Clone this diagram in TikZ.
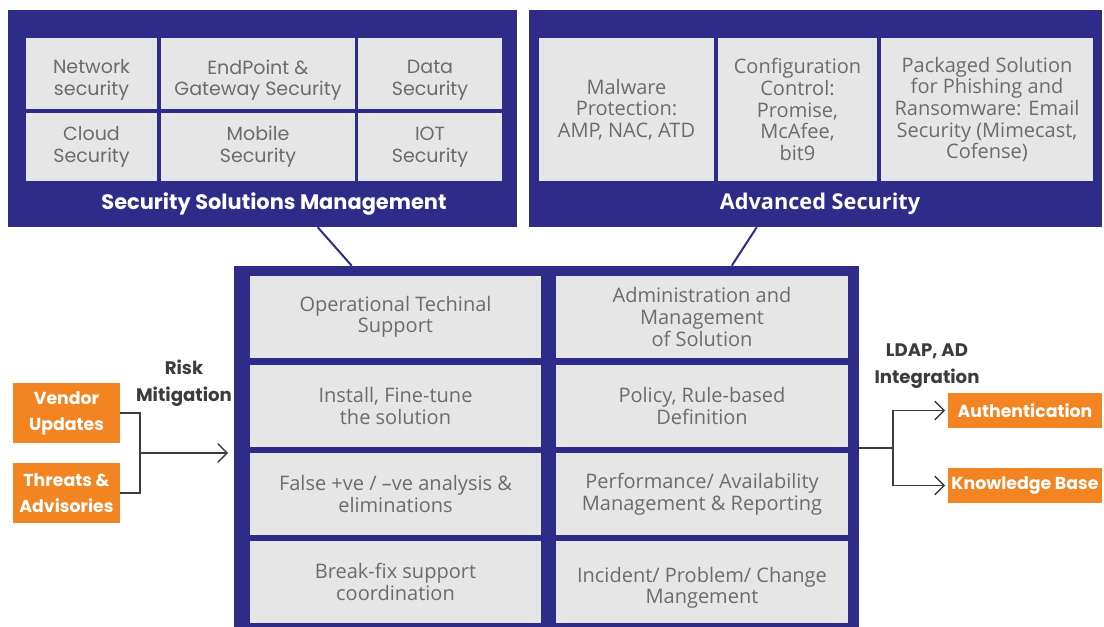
\documentclass[tikz,border=0pt]{standalone}
\usepackage{fontspec}
\setmainfont{Poppins}
\newfontfamily\osans{Open Sans}
\usetikzlibrary{arrows.meta,fit,calc}
\definecolor{navy}{HTML}{2E2C88}
\definecolor{cellgray}{HTML}{E6E6E6}
\definecolor{orng}{HTML}{F28421}
\definecolor{txtgray}{HTML}{6C6C6C}
\definecolor{lbl}{HTML}{3C3C3C}
\newcommand\mkcell[7][cellbox]{\node[cellbg, fit={(#3,#4)(#5,#6)}] (#2) {};
  \node[#1] (#2t) at (#2.center) {#7};}
\tikzset{
  cellbg/.style={fill=cellgray, inner sep=0pt},
  cellbox/.style={inner sep=0pt, align=center, text=txtgray, font=\fontsize{14.3}{16.2}\selectfont},
  mcell/.style={cellbox, font=\osans\fontsize{15}{16.2}\selectfont},
  panel/.style={fill=navy, inner sep=0pt},
  ptitle/.style={text=white, font=\bfseries\fontsize{15.7}{18}\selectfont},
  obox/.style={fill=orng, inner sep=0pt},
  otext/.style={align=center, text=white, inner sep=0pt, font=\bfseries\fontsize{13}{19.5}\selectfont},
  lab/.style={text=lbl, align=center, font=\bfseries\fontsize{13.6}{20}\selectfont},
  conn/.style={draw=lbl, line width=1pt},
  arr/.style={conn, -{Straight Barb[length=7pt,width=14pt]}},
  link/.style={draw=navy, line width=1.5pt}
}
\begin{document}
\begin{tikzpicture}[x=0.75pt,y=-0.75pt]
\useasboundingbox (0,0) rectangle (1104,627);
% panels
\node[panel, fit={(8,10)(517,227)}] (ssm) {};
\node[panel, fit={(529,10)(1102,227)}] (adv) {};
\node[panel, fit={(234,266)(859,627)}] (mid) {};
% panel 1 cells
\mkcell[cellbox,yshift=-5pt]{net}{26}{38}{157}{109}{Network\\security}
\mkcell[cellbox,yshift=-5pt]{endp}{161}{38}{355}{109}{EndPoint \&\\Gateway Security}
\mkcell[cellbox,yshift=-5pt]{data}{358}{38}{502}{109}{Data\\Security}
\mkcell{cloud}{26}{113}{157}{181}{Cloud\\Security}
\mkcell{mob}{161}{113}{355}{181}{Mobile\\Security}
\mkcell{iot}{358}{113}{502}{181}{IOT\\Security}
\node[ptitle] (ssmt) at (274,204) {Security Solutions Management};
% panel 2 cells
\mkcell[mcell]{mal}{539}{38}{714}{181}{Malware\\Protection:\\AMP, NAC, ATD}
\mkcell[mcell]{conf}{718}{38}{877}{181}{Configuration\\Control:\\Promise,\\McAfee,\\bit9}
\mkcell[mcell]{pack}{881}{38}{1093}{181}{Packaged Solution\\for Phishing and\\Ransomware: Email\\Security (Mimecast,\\Cofense)}
\node[ptitle, font=\osans\bfseries\fontsize{16.3}{18}\selectfont] (advt) at (820,204) {Advanced Security};
% middle cells
\mkcell[mcell]{ops}{250}{276}{541}{358}{Operational Techinal\\Support}
\mkcell[mcell]{admin}{556}{276}{848}{358}{Administration and\\Management\\of Solution}
\mkcell[mcell]{inst}{250}{365}{541}{447}{Install, Fine-tune\\the solution}
\mkcell[mcell]{pol}{556}{365}{848}{447}{Policy, Rule-based\\Definition}
\mkcell[mcell]{fals}{250}{453}{541}{535}{False +ve / –ve analysis \&\\eliminations}
\mkcell[mcell]{perf}{556}{453}{848}{535}{Performance/ Availability\\Management \& Reporting}
\mkcell[mcell]{brk}{250}{541}{541}{623}{Break-fix support\\coordination}
\mkcell[mcell,yshift=-4.5pt]{inc}{556}{541}{848}{623}{Incident/ Problem/ Change\\Mangement}
% links from top panels
\draw[link] ([xshift=310*0.75pt]ssm.south west) -- ([xshift=118*0.75pt]mid.north west);
\draw[link] ([xshift=228*0.75pt]adv.south west) -- ([xshift=498*0.75pt]mid.north west);
% left side
\node[obox, fit={(13,383)(120,443)}] (vend) {};
\node[otext] (vendt) at (vend.center) {Vendor\\Updates};
\node[obox, fit={(13,463)(120,523)}] (thr) {};
\node[otext] (thrt) at (thr.center) {Threats \&\\Advisories};
\node[lab] (risk) at (184,383) {Risk\\Mitigation};
\coordinate (jl) at (140,453);
\coordinate (tipl) at (228,453);
\draw[conn] (vend.east) -| (jl);
\draw[conn] (thr.east) -| (jl);
\draw[arr] (jl) -- (tipl);
% right side
\node[obox, fit={(948,393)(1102,428)}] (auth) {};
\node[otext] (autht) at (auth.center) {Authentication};
\node[obox, fit={(948,468)(1102,503)}] (kb) {};
\node[otext] (kbt) at (kb.center) {Knowledge Base};
\node[lab] (ldap) at (927,366) {LDAP, AD\\Integration};
\coordinate (jr) at (893,448);
\draw[conn] (mid.east |- jr) -- (jr);
\draw[arr] (jr) |- ([xshift=-2pt]auth.west);
\draw[arr] (jr) |- ([xshift=-2pt]kb.west);
\end{tikzpicture}
\end{document}
